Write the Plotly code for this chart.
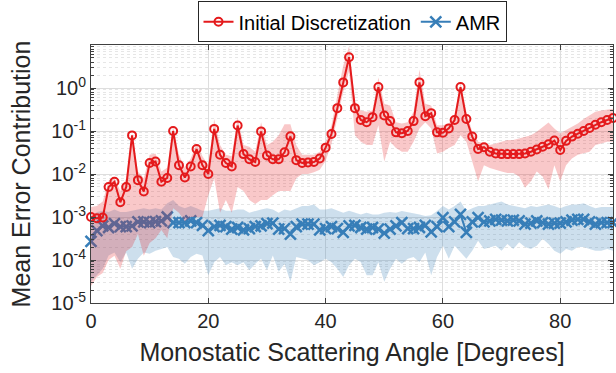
import plotly.graph_objects as go

angles = list(range(90))

init_mean = [1.0e-3, 9.4e-4, 9.7e-4, 5.0e-3, 6.6e-3, 2.2e-3, 5.0e-3, 0.079, 7.2e-3, 3.9e-3,
             0.018, 0.0195, 6.6e-3, 8.1e-3, 0.10, 0.016, 8.3e-3, 0.015, 0.038, 0.016,
             0.010, 0.112, 0.028, 0.018, 0.015, 0.134, 0.029, 0.022, 0.019, 0.098,
             0.027, 0.022, 0.022, 0.032, 0.075, 0.021, 0.018, 0.0185, 0.019, 0.023,
             0.041, 0.085, 0.34, 1.35, 5.2, 0.34, 0.18, 0.16, 0.21, 1.05,
             0.23, 0.17, 0.093, 0.089, 0.10, 0.17, 1.35, 0.22, 0.26, 0.093,
             0.091, 0.115, 0.18, 1.05, 0.19, 0.074, 0.038, 0.042, 0.033, 0.030,
             0.029, 0.029, 0.029, 0.029, 0.030, 0.033, 0.037, 0.043, 0.049, 0.060,
             0.036, 0.059, 0.074, 0.086, 0.10, 0.118, 0.14, 0.16, 0.18, 0.20]

init_upper = [1.7e-3, 1.8e-3, 2.3e-3, 7.0e-3, 8.1e-3, 4.0e-3, 8.0e-3, 0.088, 0.0115, 8.0e-3,
              0.028, 0.030, 0.0115, 0.014, 0.125, 0.028, 0.014, 0.023, 0.051, 0.026,
              0.016, 0.19, 0.047, 0.028, 0.026, 0.21, 0.047, 0.043, 0.033, 0.16,
              0.047, 0.056, 0.08, 0.143, 0.143, 0.047, 0.028, 0.028, 0.028, 0.033,
              0.056, 0.136, 0.67, 3.3, 9.4, 0.47, 0.30, 0.28, 0.30, 1.76,
              0.43, 0.39, 0.16, 0.15, 0.16, 0.28, 2.7, 0.43, 0.39, 0.136,
              0.136, 0.15, 0.23, 1.35, 0.28, 0.096, 0.056, 0.051, 0.047, 0.051,
              0.056, 0.062, 0.062, 0.067, 0.073, 0.08, 0.096, 0.125, 0.157, 0.114,
              0.087, 0.105, 0.125, 0.15, 0.19, 0.23, 0.28, 0.30, 0.32, 0.33]

init_lower = [2.5e-5, 4e-5, 5e-5, 1e-4, 1.26e-4, 6.3e-5, 1.6e-4, 2e-4, 4e-4, 1.26e-4,
              2.5e-4, 3.2e-4, 5e-4, 3.2e-4, 1.6e-3, 1.26e-3, 8e-4, 1e-3, 1e-3, 1e-3,
              3.2e-3, 8e-3, 1.26e-3, 2.5e-3, 1.26e-3, 5e-3, 4e-3, 2.5e-3, 2e-3, 2.5e-3,
              2.5e-3, 3.2e-3, 4e-3, 4e-3, 4e-3, 8e-3, 0.01, 0.01, 0.011, 0.0126,
              0.02, 0.05, 0.2, 0.8, 2.5, 0.08, 0.056, 0.047, 0.047, 0.136,
              0.0195, 0.056, 0.04, 0.033, 0.033, 0.056, 0.114, 0.16, 0.114, 0.030,
              0.033, 0.04, 0.047, 0.08, 0.056, 0.0195, 6.8e-3, 0.016, 0.0137, 0.0126,
              0.0115, 0.0105, 0.0105, 8.8e-3, 4.8e-3, 6.8e-3, 0.0115, 8.8e-3, 4.4e-3, 0.016,
              6.8e-3, 0.016, 0.023, 0.028, 0.030, 0.033, 0.047, 0.051, 0.056, 0.056]

amr_mean = [2.7e-4, 4.8e-4, 6.2e-4, 5.7e-4, 7.0e-4, 6.0e-4, 6.0e-4, 6.2e-4, 7.7e-4, 7.7e-4,
            7.4e-4, 7.8e-4, 8.1e-4, 1.0e-3, 7.4e-4, 7.4e-4, 7.4e-4, 8.1e-4, 7.4e-4, 6.4e-4,
            4.8e-4, 6.0e-4, 6.4e-4, 6.0e-4, 5.2e-4, 5.7e-4, 5.0e-4, 5.4e-4, 6.0e-4, 6.2e-4,
            7.0e-4, 7.2e-4, 5.2e-4, 5.4e-4, 4.0e-4, 6.0e-4, 6.8e-4, 6.8e-4, 6.8e-4, 5.0e-4,
            5.4e-4, 6.0e-4, 5.4e-4, 4.4e-4, 6.2e-4, 6.4e-4, 5.7e-4, 5.2e-4, 5.7e-4, 5.2e-4,
            4.2e-4, 5.2e-4, 6.2e-4, 7.4e-4, 5.4e-4, 5.4e-4, 5.7e-4, 6.4e-4, 4.5e-4, 6.0e-4,
            9.7e-4, 6.0e-4, 7.7e-4, 1.15e-3, 4.4e-4, 7.7e-4, 9.7e-4, 7.7e-4, 8.1e-4, 8.8e-4,
            8.5e-4, 8.1e-4, 8.5e-4, 8.1e-4, 6.8e-4, 7.2e-4, 8.1e-4, 7.4e-4, 6.8e-4, 7.2e-4,
            7.2e-4, 7.7e-4, 8.5e-4, 8.8e-4, 8.8e-4, 7.7e-4, 6.8e-4, 7.4e-4, 7.4e-4, 7.4e-4]

amr_upper = [9e-4, 1.3e-3, 1.4e-3, 1.3e-3, 1.5e-3, 1.3e-3, 1.3e-3, 1.4e-3, 1.5e-3, 1.6e-3,
             1.5e-3, 1.6e-3, 1.5e-3, 2.1e-3, 2.5e-3, 1.8e-3, 1.6e-3, 1.8e-3, 1.6e-3, 1.4e-3,
             1.4e-3, 1.5e-3, 1.6e-3, 1.4e-3, 1.4e-3, 1.5e-3, 1.5e-3, 1.26e-3, 1.4e-3, 1.5e-3,
             1.6e-3, 1.5e-3, 1.26e-3, 1.5e-3, 1.4e-3, 1.6e-3, 1.8e-3, 1.8e-3, 1.95e-3, 1.5e-3,
             1.5e-3, 1.6e-3, 1.4e-3, 1.26e-3, 1.4e-3, 1.26e-3, 1.15e-3, 1.26e-3, 1.15e-3, 1.15e-3,
             1.26e-3, 1.3e-3, 1.26e-3, 1.37e-3, 1.3e-3, 1.26e-3, 1.15e-3, 1.05e-3, 1.1e-3, 1.37e-3,
             1.8e-3, 1.5e-3, 1.8e-3, 2.3e-3, 1.37e-3, 1.6e-3, 1.8e-3, 1.8e-3, 1.95e-3, 2.1e-3,
             2.3e-3, 1.95e-3, 1.8e-3, 1.7e-3, 1.6e-3, 1.8e-3, 1.7e-3, 1.8e-3, 1.95e-3, 1.8e-3,
             1.6e-3, 1.8e-3, 1.95e-3, 1.95e-3, 2.1e-3, 1.8e-3, 1.6e-3, 1.7e-3, 1.7e-3, 1.7e-3]

amr_lower = [3.1e-5, 4.4e-5, 6.3e-5, 1.27e-4, 1.5e-4, 8.9e-5, 1.5e-4, 6.3e-5, 1.07e-4, 1.5e-4,
             1.4e-4, 1.65e-4, 1.8e-4, 2.0e-4, 1.17e-4, 1.07e-4, 8.2e-5, 1.17e-4, 1.4e-4, 1.27e-4,
             4.4e-5, 8.9e-5, 1.17e-4, 7.5e-5, 8.9e-5, 7.5e-5, 8.9e-5, 5.8e-5, 8.2e-5, 1.07e-4,
             5.8e-5, 1.27e-4, 5.3e-5, 8.2e-5, 3.1e-5, 1.17e-4, 1.07e-4, 1.0e-4, 7.5e-5, 8.9e-5,
             1.07e-4, 8.9e-5, 6.3e-5, 4.0e-5, 7.5e-5, 1.07e-4, 8.9e-5, 4.4e-5, 4.4e-5, 8.9e-5,
             3.1e-5, 6.3e-5, 1.07e-4, 8.2e-5, 1.07e-4, 1.17e-4, 8.9e-5, 1.5e-4, 4.4e-5, 1.17e-4,
             2.15e-4, 1.07e-4, 2.15e-4, 1.5e-4, 1.07e-4, 1.65e-4, 2.8e-4, 1.8e-4, 2.0e-4, 2.15e-4,
             1.65e-4, 2.35e-4, 1.8e-4, 2.6e-4, 2.0e-4, 1.8e-4, 2.15e-4, 3.1e-4, 2.35e-4, 1.65e-4,
             1.4e-4, 1.8e-4, 1.65e-4, 2.0e-4, 2.0e-4, 1.8e-4, 1.65e-4, 1.65e-4, 1.8e-4, 1.65e-4]

x_ticks = [0, 20, 40, 60, 80]
y_ticks = [1e-5, 1e-4, 1e-3, 1e-2, 1e-1, 1e0]
y_ticktext = ["10<sup>-5</sup>", "10<sup>-4</sup>", "10<sup>-3</sup>",
              "10<sup>-2</sup>", "10<sup>-1</sup>", "10<sup>0</sup>"]

RED = "#E41A1C"
BLUE = "#377EB8"

fig = go.Figure()

band_x = angles + angles[::-1]

fig.add_trace(go.Scatter(x=band_x, y=amr_upper + amr_lower[::-1], fill="toself",
                         fillcolor="rgba(55,126,184,0.25)", line=dict(width=0),
                         mode="lines", hoverinfo="skip", showlegend=False))
fig.add_trace(go.Scatter(x=angles, y=amr_mean, mode="lines+markers", name="AMR",
                         line=dict(color=BLUE, width=2),
                         marker=dict(symbol="x-thin-open", size=11,
                                     line=dict(color=BLUE, width=2.5), color=BLUE),
                         cliponaxis=False, legendrank=2))
fig.add_trace(go.Scatter(x=band_x, y=init_upper + init_lower[::-1], fill="toself",
                         fillcolor="rgba(228,26,28,0.24)", line=dict(width=0),
                         mode="lines", hoverinfo="skip", showlegend=False))
fig.add_trace(go.Scatter(x=angles, y=init_mean, mode="lines+markers",
                         name="Initial Discretization",
                         line=dict(color=RED, width=2),
                         marker=dict(symbol="circle-open", size=8,
                                     line=dict(color=RED, width=2), color=RED),
                         cliponaxis=False, legendrank=1))

axis_common = dict(showline=True, linecolor="#404040", linewidth=1, mirror="ticks",
                   ticks="inside", tickcolor="#404040", ticklen=5,
                   gridcolor="#dedede", gridwidth=1, zeroline=False,
                   tickfont=dict(size=20, color="#262626"))

fig.update_xaxes(range=[0, 89], tickvals=x_ticks, **axis_common,
                 title=dict(text="Monostatic Scattering Angle [Degrees]",
                            font=dict(size=25, color="#262626"), standoff=12))
fig.update_yaxes(type="log", range=[-5, 1], tickvals=y_ticks, ticktext=y_ticktext,
                 **axis_common,
                 minor=dict(dtick="D1", showgrid=True, gridcolor="#e6e6e6",
                            griddash="dot", ticks="inside", ticklen=3,
                            tickcolor="#404040"),
                 title=dict(text="Mean Error Contribution",
                            font=dict(size=25, color="#262626"), standoff=13))

fig.update_layout(
    width=616, height=373,
    margin=dict(l=91, r=3, t=44, b=70),
    paper_bgcolor="white", plot_bgcolor="white",
    font=dict(family="Liberation Sans, Arial, sans-serif", color="#262626"),
    legend=dict(orientation="h", x=0.5, xanchor="center", y=1.165, yanchor="top",
                bordercolor="#262626", borderwidth=1, bgcolor="white",
                font=dict(size=20, color="#000000"), itemwidth=30,
                tracegroupgap=0),
    showlegend=True,
)

fig.write_html("out.html")
